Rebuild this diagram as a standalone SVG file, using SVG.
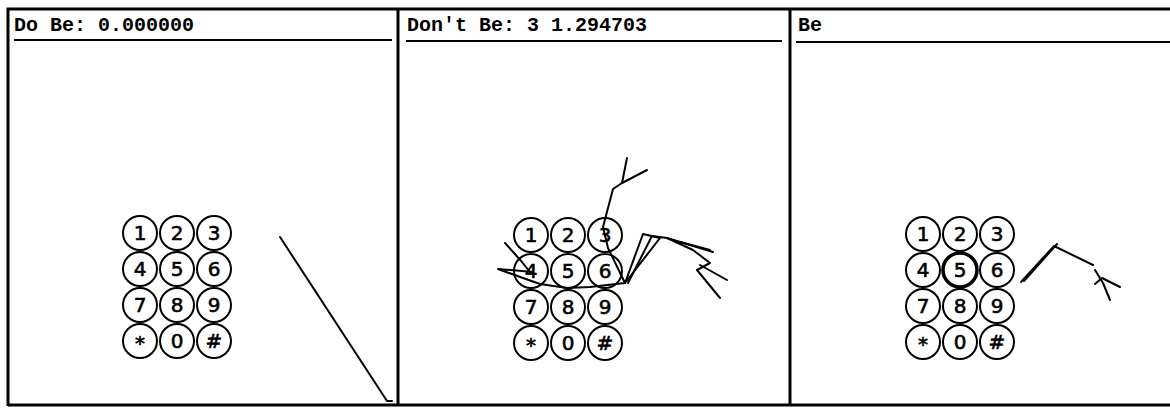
<svg xmlns="http://www.w3.org/2000/svg" width="1170" height="408" viewBox="0 0 1170 408">
<defs>
<style>
.frame{fill:none;stroke:#000;stroke-width:3}
.hdr{stroke:#000;stroke-width:2}
.title{font-family:"Liberation Mono","DejaVu Sans Mono",monospace;font-size:20px;font-weight:bold;fill:#000}
.key circle{fill:#fff;stroke:#000;stroke-width:2}
.key text{font-family:"DejaVu Sans","Liberation Sans",sans-serif;font-size:20px;fill:#000;text-anchor:middle;stroke:#000;stroke-width:0.6}
.fig{fill:none;stroke:#000;stroke-width:2;stroke-linejoin:round;stroke-linecap:round}
</style>
<g id="keypad" class="key">
<circle cx="0" cy="0" r="17"/><text x="0" y="7">1</text>
<circle cx="37" cy="0" r="17"/><text x="37" y="7">2</text>
<circle cx="74" cy="0" r="17"/><text x="74" y="7">3</text>
<circle cx="0" cy="36" r="17"/><text x="0" y="43">4</text>
<circle cx="37" cy="36" r="17"/><text x="37" y="43">5</text>
<circle cx="74" cy="36" r="17"/><text x="74" y="43">6</text>
<circle cx="0" cy="72" r="17"/><text x="0" y="79">7</text>
<circle cx="37" cy="72" r="17"/><text x="37" y="79">8</text>
<circle cx="74" cy="72" r="17"/><text x="74" y="79">9</text>
<circle cx="0" cy="108" r="17"/><text x="0" y="117">*</text>
<circle cx="37" cy="108" r="17"/><text x="37" y="115">0</text>
<circle cx="74" cy="108" r="17"/><text x="74" y="115">#</text>
</g>
</defs>
<rect width="1170" height="408" fill="#fff"/>

<g id="frames">
<path class="frame" d="M8,406 V9 H1170 M398,9 V406 M790,9 V406 M8,405 H1170"/>
<line class="hdr" x1="14" y1="40" x2="392" y2="40"/>
<line class="hdr" x1="406" y1="41" x2="782" y2="41"/>
<line class="hdr" x1="796" y1="42" x2="1170" y2="42"/>
</g>

<g id="panel-do-be">
<text class="title" x="14" y="31">Do Be: 0.000000</text>
<use href="#keypad" x="140" y="233"/>
<polyline class="fig" points="280,237 387,401 392,401"/>
</g>

<g id="panel-dont-be">
<text class="title" x="407" y="31">Don′t Be: 3 1.294703</text>
<use href="#keypad" x="531" y="235"/>
<polyline class="fig" points="627,158 622,183 647,170"/>
<polyline class="fig" points="622,183 613,189 603,227 608,248 625,283"/>
<polyline class="fig" points="625,283 590,287 567,288 540,284 523,278 498,269 533,272"/>
<polyline class="fig" points="505,243 522,262 530,272"/>
<polyline class="fig" points="625,283 643,234 660,238 625,283"/>
<polyline class="fig" points="628,283 652,236 667,238 713,252"/>
<polyline class="fig" points="680,242 710,250"/>
<polyline class="fig" points="667,238 693,250 710,263 697,270 720,298"/>
<polyline class="fig" points="700,265 727,280"/>
</g>

<g id="panel-be">
<text class="title" x="798" y="31">Be</text>
<use href="#keypad" x="923" y="234"/>
<circle cx="960" cy="270" r="17" fill="none" stroke="#000" stroke-width="3.5"/>
<polyline class="fig" points="1021,282 1054,246 1093,265"/>
<polyline class="fig" points="1024,281 1057,244"/>
<polyline class="fig" points="1095,270 1103,283 1110,300"/>
<polyline class="fig" points="1095,284 1102,278 1120,287"/>
</g>
</svg>
